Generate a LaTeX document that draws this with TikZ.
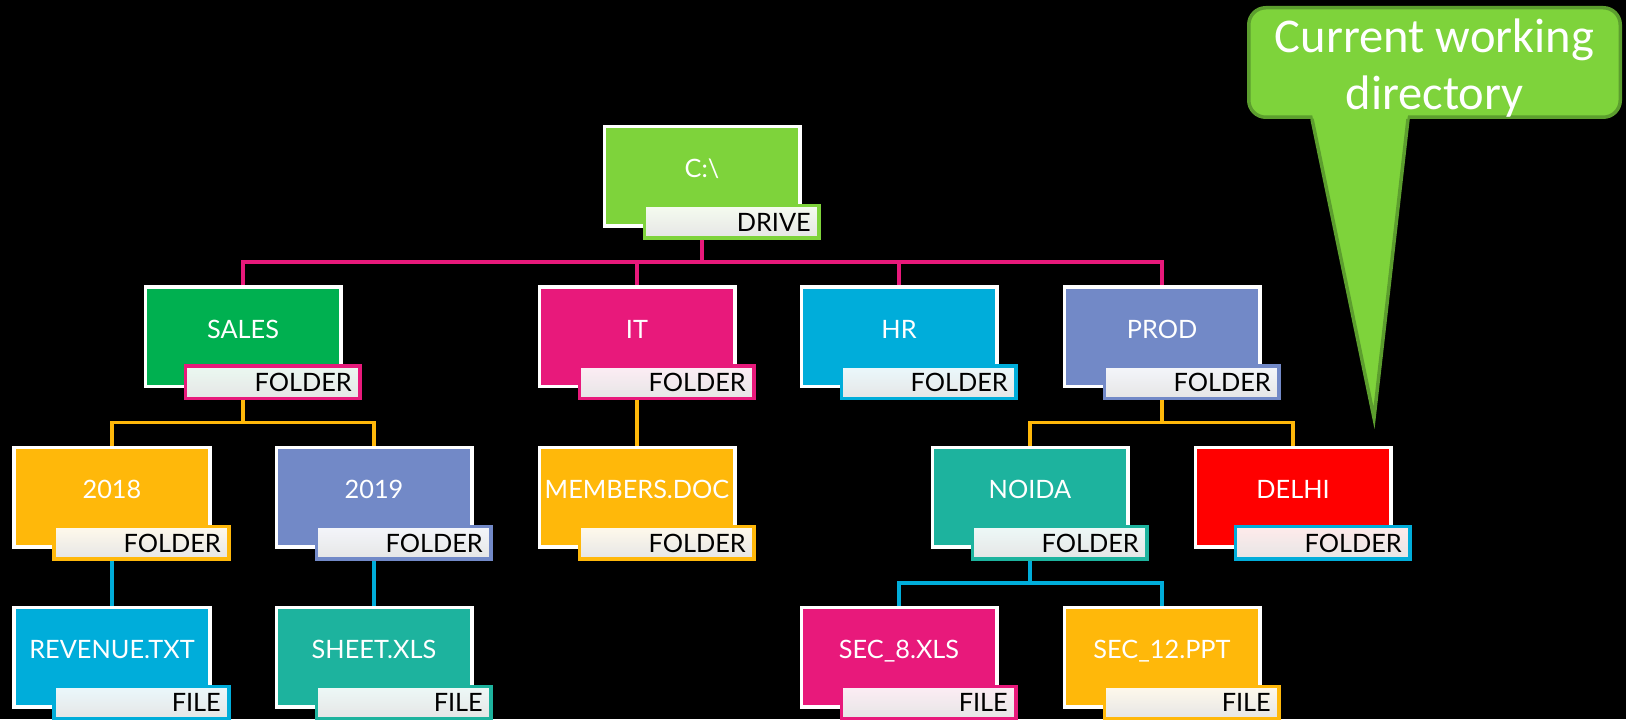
\documentclass[tikz,border=0pt]{standalone}
\usepackage{fontspec}
\setmainfont{Lato}
\newfontfamily\calloutfont{Carlito}
\usetikzlibrary{positioning}

\definecolor{leafgreen}{HTML}{7ED33B}
\definecolor{calloutedge}{HTML}{5C9E2E}
\definecolor{salesgreen}{HTML}{00B050}
\definecolor{pinkred}{HTML}{E8197B}
\definecolor{skyblue}{HTML}{00ADDA}
\definecolor{slate}{HTML}{7289C7}
\definecolor{amber}{HTML}{FFB80A}
\definecolor{jade}{HTML}{1DB39E}
\definecolor{firered}{HTML}{FF0000}

\begin{document}
\begin{tikzpicture}[
    box/.style={draw=white, line width=0.035cm, fill=#1, minimum width=1.955cm,
        minimum height=0.995cm, inner sep=0pt, text=white,
        font=\fontsize{7.2}{8}\selectfont, text height=0.2cm, text depth=0.17cm},
    tag/.style 2 args={draw=#1, line width=0.035cm, top color=#2!8!white,
        bottom color=black!10, minimum width=1.745cm, minimum height=0.325cm,
        text width=1.585cm, align=right, inner xsep=0.08cm, inner ysep=0pt,
        text=black, font=\fontsize{7.2}{8}\selectfont},
    link/.style={draw=#1, line width=0.035cm},
    callout/.style={draw=calloutedge, line width=0.035cm, fill=leafgreen,
        rounded corners=0.17cm, minimum width=3.715cm, minimum height=1.095cm,
        inner sep=0pt, text=white, align=center,
        font=\calloutfont\fontsize{13.8}{16.2}\selectfont}
]

    % Black page
    \fill[black] (0,0) rectangle (16.26,7.19);
    \useasboundingbox (0,0) rectangle (16.26,7.19);

    % Drive
    \node[box=leafgreen] (drive) at (7.02,5.425) {C:\textbackslash};

    % Folders under the drive
    \node[box=salesgreen] (sales) at (2.43,3.82) {SALES};
    \node[box=pinkred] (it) at (6.37,3.82) {IT};
    \node[box=skyblue] (hr) at (8.99,3.82) {HR};
    \node[box=slate] (prod) at (11.62,3.82) {PROD};

    % Second level
    \node[box=amber] (y2018) at (1.12,2.215) {2018};
    \node[box=slate] (y2019) at (3.74,2.215) {2019};
    \node[box=amber] (members) at (6.37,2.215) {MEMBERS.DOC};
    \node[box=jade] (noida) at (10.30,2.215) {NOIDA};
    \node[box=firered] (delhi) at (12.93,2.215) {DELHI};

    % Files
    \node[box=skyblue] (revenue) at (1.12,0.62) {REVENUE.TXT};
    \node[box=jade] (sheet) at (3.74,0.62) {SHEET.XLS};
    \node[box=pinkred] (sec8) at (8.99,0.62) {SEC\_8.XLS};
    \node[box=amber] (sec12) at (11.62,0.62) {SEC\_12.PPT};

    % Type tags, hung on the lower right corner of each box
    \node[tag={leafgreen}{leafgreen}, below left=-0.24cm and -0.19cm of drive.south east] (driveT) {DRIVE};
    \node[tag={pinkred}{salesgreen}, below left=-0.24cm and -0.19cm of sales.south east] (salesT) {FOLDER};
    \node[tag={pinkred}{pinkred}, below left=-0.24cm and -0.19cm of it.south east] (itT) {FOLDER};
    \node[tag={skyblue}{skyblue}, below left=-0.24cm and -0.19cm of hr.south east] (hrT) {FOLDER};
    \node[tag={slate}{slate}, below left=-0.24cm and -0.19cm of prod.south east] (prodT) {FOLDER};
    \node[tag={amber}{amber}, below left=-0.24cm and -0.19cm of y2018.south east] (y2018T) {FOLDER};
    \node[tag={slate}{slate}, below left=-0.24cm and -0.19cm of y2019.south east] (y2019T) {FOLDER};
    \node[tag={amber}{amber}, below left=-0.24cm and -0.19cm of members.south east] (membersT) {FOLDER};
    \node[tag={jade}{jade}, below left=-0.24cm and -0.19cm of noida.south east] (noidaT) {FOLDER};
    \node[tag={skyblue}{firered}, below left=-0.24cm and -0.19cm of delhi.south east] (delhiT) {FOLDER};
    \node[tag={skyblue}{skyblue}, below left=-0.24cm and -0.19cm of revenue.south east] (revenueT) {FILE};
    \node[tag={jade}{jade}, below left=-0.24cm and -0.19cm of sheet.south east] (sheetT) {FILE};
    \node[tag={pinkred}{pinkred}, below left=-0.24cm and -0.19cm of sec8.south east] (sec8T) {FILE};
    \node[tag={amber}{amber}, below left=-0.24cm and -0.19cm of sec12.south east] (sec12T) {FILE};

    % Connectors
    \foreach \kid in {sales,it,hr,prod}
        \draw[link=pinkred] (driveT.south -| drive) -- ++(0,-0.22) -| (\kid.north);
    \foreach \kid in {y2018,y2019}
        \draw[link=amber] (salesT.south -| sales) -- ++(0,-0.22) -| (\kid.north);
    \draw[link=amber] (itT.south -| it) -- (members.north);
    \foreach \kid in {noida,delhi}
        \draw[link=amber] (prodT.south -| prod) -- ++(0,-0.22) -| (\kid.north);
    \draw[link=skyblue] (y2018T.south -| y2018) -- (revenue.north);
    \draw[link=skyblue] (y2019T.south -| y2019) -- (sheet.north);
    \foreach \kid in {sec8,sec12}
        \draw[link=skyblue] (noidaT.south -| noida) -- ++(0,-0.22) -| (\kid.north);

    % Callout pointing at DELHI
    \node[callout] (cwd) at (14.345,6.565) {\rule{0pt}{0.44cm}Current working\\directory};
    \coordinate (tip) at (13.74,3.01);
    \coordinate (baseL) at ([xshift=0.65cm]cwd.south west);
    \coordinate (baseR) at ([xshift=1.61cm]cwd.south west);
    \fill[leafgreen] ([yshift=0.05cm]baseL) -- (tip) -- ([yshift=0.05cm]baseR) -- cycle;
    \draw[calloutedge, line width=0.035cm] (baseL) -- (tip) -- (baseR);

\end{tikzpicture}
\end{document}
